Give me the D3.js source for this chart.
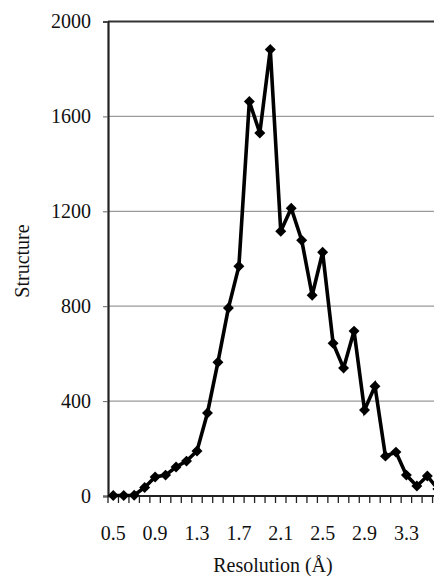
<!DOCTYPE html>
<html>
<head>
<meta charset="utf-8">
<script src="https://cdn.jsdelivr.net/npm/d3@7"></script>
<style>
  html, body { margin: 0; padding: 0; background: #fff; overflow: hidden; }
  svg { display: block; }
</style>
</head>
<body>
<svg id="chart" width="434" height="576"></svg>
<script>
// Resolution bins (Å), one category per 0.1 Å
const resolution = ["0.5","0.6","0.7","0.8","0.9","1.0","1.1","1.2","1.3","1.4",
                    "1.5","1.6","1.7","1.8","1.9","2.0","2.1","2.2","2.3","2.4",
                    "2.5","2.6","2.7","2.8","2.9","3.0","3.1","3.2","3.3","3.4",
                    "3.5","3.6"];
// Number of structures in each bin
const structures = [2, 2, 3, 36, 80, 88, 122, 147, 190, 350,
                    564, 792, 968, 1663, 1530, 1882, 1116, 1213, 1078, 846,
                    1027, 644, 539, 695, 362, 463, 168, 185, 88, 42,
                    84, 30];
const yTicks = [0, 400, 800, 1200, 1600, 2000];
const xLabels = ["0.5","0.9","1.3","1.7","2.1","2.5","2.9","3.3"];

(function () {
  const serif = "'Liberation Serif'";
  const svg = d3.select("#chart");
  const plotLeft = 108, plotTop = 21.5, plotBottom = 496;
  const step = 10.47;
  const plotRight = plotLeft + step * resolution.length;

  const x = d3.scaleBand().domain(resolution).range([plotLeft, plotRight]).padding(0);
  const y = d3.scaleLinear().domain([0, 2000]).range([plotBottom, plotTop]);
  const cx = d => x(d) + x.bandwidth() / 2;

  // horizontal gridlines
  svg.append("g").selectAll("line")
    .data(yTicks.filter(d => d > 0 && d < 2000))
    .join("line")
    .attr("x1", plotLeft).attr("x2", 434)
    .attr("y1", d => y(d)).attr("y2", d => y(d))
    .attr("stroke", "#9a9a9a").attr("stroke-width", 1.2);

  // top border of the plot area
  svg.append("line")
    .attr("x1", plotLeft).attr("x2", 434)
    .attr("y1", y(2000)).attr("y2", y(2000))
    .attr("stroke", "#333").attr("stroke-width", 2);

  // y axis
  const yAxis = d3.axisLeft(y).tickValues(yTicks).tickSize(5).tickPadding(12)
    .tickFormat(d3.format("d"));
  const gy = svg.append("g").attr("transform", `translate(${plotLeft},0)`).call(yAxis);
  gy.select(".domain").attr("stroke", "#222").attr("stroke-width", 2.2);
  gy.selectAll(".tick line").attr("stroke", "#666").attr("stroke-width", 1);
  gy.selectAll(".tick text")
    .attr("fill", "#111")
    .style("font-family", serif)
    .style("font-size", "20px");

  // x axis: tick marks at category boundaries, labels every 0.4 Å
  const gx = svg.append("g").attr("transform", `translate(0,${plotBottom})`);
  gx.append("line").attr("x1", plotLeft).attr("x2", 434).attr("y1", 0).attr("y2", 0)
    .attr("stroke", "#222").attr("stroke-width", 2);
  gx.selectAll("line.tick")
    .data(resolution)
    .join("line").attr("class", "tick")
    .attr("x1", d => x(d)).attr("x2", d => x(d))
    .attr("y1", 0).attr("y2", 7)
    .attr("stroke", "#222").attr("stroke-width", 1.3);
  gx.selectAll("text")
    .data(xLabels)
    .join("text")
    .attr("x", d => cx(d))
    .attr("y", 44)
    .attr("text-anchor", "middle")
    .attr("fill", "#111")
    .style("font-family", serif)
    .style("font-size", "20px")
    .text(d => d);

  // series line
  const line = d3.line().x((d, i) => cx(resolution[i])).y(d => y(d));
  svg.append("path")
    .datum(structures)
    .attr("d", line)
    .attr("fill", "none")
    .attr("stroke", "#000")
    .attr("stroke-width", 3.6)
    .attr("stroke-linejoin", "miter");

  // diamond markers
  svg.append("g").selectAll("path")
    .data(structures)
    .join("path")
    .attr("transform", (d, i) => `translate(${cx(resolution[i])},${y(d)}) rotate(45)`)
    .attr("d", d3.symbol().type(d3.symbolSquare).size(60))
    .attr("fill", "#000");

  // axis titles
  svg.append("text")
    .attr("x", 273).attr("y", 572)
    .attr("text-anchor", "middle")
    .attr("fill", "#111")
    .style("font-family", serif)
    .style("font-size", "20px")
    .text("Resolution (Å)");

  svg.append("text")
    .attr("transform", "translate(29,261) rotate(-90)")
    .attr("text-anchor", "middle")
    .attr("fill", "#111")
    .style("font-family", serif)
    .style("font-size", "20px")
    .text("Structure");
})();
</script>
</body>
</html>
